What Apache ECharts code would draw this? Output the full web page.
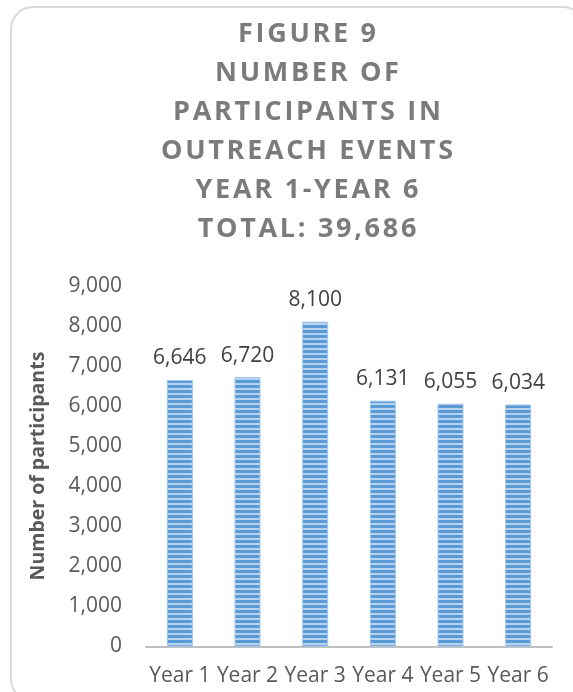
<!DOCTYPE html>
<html>
<head>
<meta charset="utf-8">
<script src="https://cdn.jsdelivr.net/npm/echarts@6/dist/echarts.min.js"></script>
<style>html,body{margin:0;padding:0;background:#fff;}#c{width:573px;height:692px;}</style>
</head>
<body>
<div id="c"></div>
<script>
const titleLines = ['FIGURE 9', 'NUMBER OF', 'PARTICIPANTS IN', 'OUTREACH EVENTS', 'YEAR 1-YEAR 6', 'TOTAL: 39,686'];
const categories = ['Year 1', 'Year 2', 'Year 3', 'Year 4', 'Year 5', 'Year 6'];
const participants = [6646, 6720, 8100, 6131, 6055, 6034];
const yMin = 0, yMax = 9000, yStep = 1000;
const yAxisTitle = 'Number of participants';

function spaced(s) { return s.split('').join('\u200A'); }

const pc = document.createElement('canvas');
pc.width = 4; pc.height = 5;
const ctx = pc.getContext('2d');
ctx.fillStyle = '#5b9bd5'; ctx.fillRect(0, 0, 4, 3);
ctx.fillStyle = '#b6d3f1'; ctx.fillRect(0, 3, 4, 2);

const chart = echarts.init(document.getElementById('c'), null, {renderer: 'canvas'});
const fmt = v => v.toLocaleString('en-US');
chart.setOption({
  animation: false,
  graphic: [
    {type: 'rect', shape: {x: 11, y: 7, width: 574, height: 694, r: 22}, style: {fill: 'none', stroke: '#d9d9d9', lineWidth: 2}, z: -1},
    {type: 'text', x: 307, y: 15, style: {text: titleLines.map(spaced).join('\n'), textAlign: 'center', textVerticalAlign: 'top', font: 'bold 27px "Open Sans"', lineHeight: 39, fill: '#7b7b7b'}}
  ],
  grid: {left: 146, right: 21, top: 285.6, bottom: 45.5, containLabel: false},
  xAxis: {
    type: 'category', data: categories,
    axisLine: {lineStyle: {color: '#bfbfbf', width: 2}},
    axisTick: {show: false},
    axisLabel: {color: '#595959', fontFamily: 'Open Sans', fontSize: 21, margin: 19, interval: 0}
  },
  yAxis: {
    type: 'value', min: yMin, max: yMax, interval: yStep,
    name: yAxisTitle, nameLocation: 'middle', nameGap: 98, nameRotate: 90,
    nameTextStyle: {color: '#595959', fontFamily: 'Open Sans', fontWeight: 'bold', fontSize: 19.5},
    splitLine: {show: false}, axisLine: {show: false}, axisTick: {show: false},
    axisLabel: {color: '#595959', fontFamily: 'Open Sans', fontSize: 21, margin: 24, formatter: fmt}
  },
  series: [{
    type: 'bar', data: participants, barWidth: 26,
    itemStyle: {color: {image: pc, repeat: 'repeat'}, borderColor: '#a3c6ea', borderWidth: 1},
    label: {show: true, position: 'top', distance: 11, color: '#404040', fontFamily: 'Open Sans', fontSize: 21, formatter: p => fmt(p.value)}
  }]
});
</script>
</body>
</html>
